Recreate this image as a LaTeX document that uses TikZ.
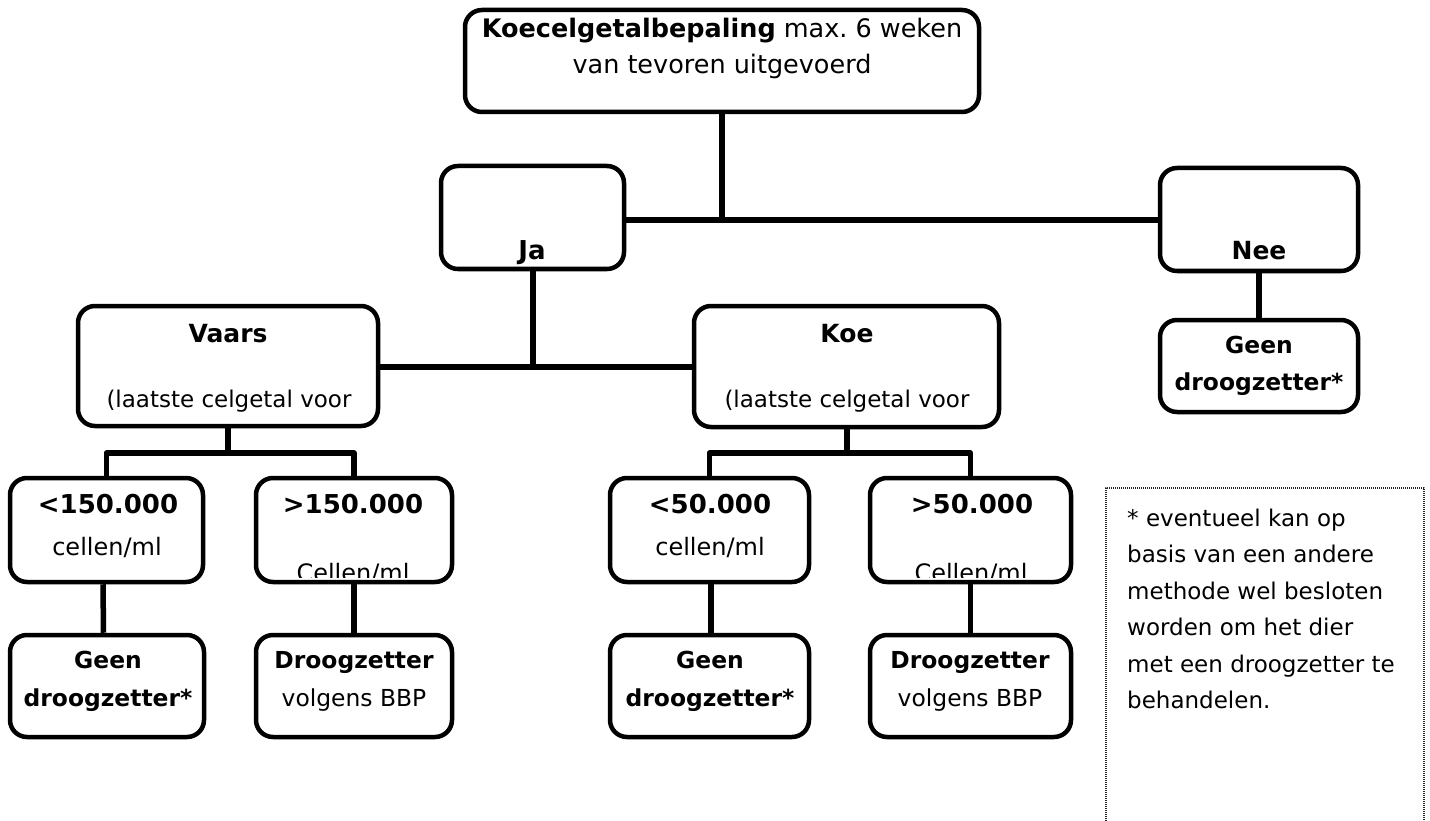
\documentclass[tikz,border=0pt]{standalone}
\usepackage{fontspec}
\setmainfont{DejaVu Sans}
\newcommand\fsz[2]{\fontsize{#1}{#2}\selectfont}
\newcommand\twolines[3]{\parbox[t]{300pt}{\centering\fsz{#1}{#2}#3}}
\begin{document}
\begin{tikzpicture}[x=1pt,y=-1pt,line join=round,
  box/.style={draw, line width=4.5pt, rounded corners=17pt, fill=white, inner sep=0pt},
  conn/.style={line width=5.5pt},
  txt/.style={inner sep=0pt, anchor=base},
  notebd/.style={line width=1.6pt, dash pattern=on 1pt off 1pt, black!85}]
\useasboundingbox (0,0) rectangle (1430,821);
% ---- boxes ----
\node[box, minimum width=514pt, minimum height=102pt] (top) at (722,61) {};
\node[box, minimum width=183pt, minimum height=103pt] (ja) at (532.5,217.5) {};
\node[box, minimum width=198pt, minimum height=103pt] (nee) at (1259,219.5) {};
\node[box, minimum width=198pt, minimum height=92pt] (neegeen) at (1259,366) {};
\node[box, minimum width=300pt, minimum height=120pt] (vaars) at (228,366) {};
\node[box, minimum width=305pt, minimum height=121pt] (koe) at (846.5,366.5) {};
\node[box, minimum width=193pt, minimum height=104pt] (v1) at (106.5,530) {};
\node[box, minimum width=196pt, minimum height=104pt] (v2) at (354,530) {};
\node[box, minimum width=199pt, minimum height=104pt] (k1) at (709.5,530) {};
\node[box, minimum width=201pt, minimum height=104pt] (k2) at (970.5,530) {};
\node[box, minimum width=194pt, minimum height=102pt] (b1) at (107,686) {};
\node[box, minimum width=196pt, minimum height=102pt] (b2) at (354,686) {};
\node[box, minimum width=199pt, minimum height=102pt] (b3) at (709.5,686) {};
\node[box, minimum width=201pt, minimum height=102pt] (b4) at (970.5,686) {};
% ---- connectors ----
\coordinate (jn) at (722,220);
\coordinate (jv) at (533,367);
\coordinate (vb) at (228,453);
\coordinate (kb) at (847,453);
\draw[conn] (top.south) -- (jn);
\draw[conn] (ja.east |- jn) -- (nee.west |- jn);
\draw[conn] (ja.south -| jv) -- (jv);
\draw[conn] (vaars.east |- jv) -- (koe.west |- jv);
\draw[conn] (nee.south) -- (neegeen.north);
\draw[conn] (vaars.south) -- (vb);
\draw[conn] (v1.north) |- (vb) -| (v2.north);
\draw[conn] (koe.south -| kb) -- (kb);
\draw[conn] (k1.north) |- (kb) -| (k2.north);
\draw[conn] ([xshift=-3.5pt]v1.south) -- ([xshift=-3.5pt]b1.north);
\draw[conn] (v2.south) -- (b2.north);
\draw[conn] ([xshift=1.5pt]k1.south) -- ([xshift=1.5pt]b3.north);
\draw[conn] (k2.south) -- (b4.north);
% ---- texts ----
\node[txt] (ttop) at (722,38) {\parbox[t]{520pt}{\centering\fsz{25.5}{36}\textbf{Koecelgetalbepaling} max.~6 weken\\van tevoren uitgevoerd}};
\node[txt] (tja) at (532,259) {\fsz{26}{30}\bfseries Ja};
\node[txt] (tnee) at (1259,259) {\fsz{25}{30}\bfseries Nee};
\node[txt] (tng) at (1259,353) {\twolines{23.4}{37}{\bfseries Geen\\droogzetter*}};
\node[txt] (tvaars) at (228,342) {\fsz{25}{30}\bfseries Vaars};
\node[txt] (tvaars2) at (229,407) {\fsz{23}{30}(laatste celgetal voor};
\node[txt] (tkoe) at (847,342) {\fsz{25}{30}\bfseries Koe};
\node[txt] (tkoe2) at (847,407) {\fsz{23}{30}(laatste celgetal voor};
\node[txt] (tv1a) at (108,513) {\fsz{26}{30}\bfseries <150.000};
\node[txt] (tv1b) at (107,555) {\fsz{24}{30}cellen/ml};
\node[txt] (tv2a) at (353,513) {\fsz{26}{30}\bfseries >150.000};
\node[txt] (tk1a) at (710,513) {\fsz{26}{30}\bfseries <50.000};
\node[txt] (tk1b) at (710,555) {\fsz{24}{30}cellen/ml};
\node[txt] (tk2a) at (972,513) {\fsz{26}{30}\bfseries >50.000};
\begin{scope}
  \clip ([xshift=3pt]v2.north west) rectangle ([yshift=6.5pt]v2.south east);
  \node[txt] (tv2b) at (353,581) {\fsz{24}{30}Cellen/ml};
\end{scope}
\begin{scope}
  \clip ([xshift=3pt]k2.north west) rectangle ([yshift=6.5pt]k2.south east);
  \node[txt] (tk2b) at (971,581) {\fsz{24}{30}Cellen/ml};
\end{scope}
\node[txt] (tb1) at (108,668) {\twolines{23.4}{38}{\bfseries Geen\\droogzetter*}};
\node[txt] (tb2) at (354,668) {\twolines{23.4}{38}{\textbf{Droogzetter}\\volgens BBP}};
\node[txt] (tb3) at (710,668) {\twolines{23.4}{38}{\bfseries Geen\\droogzetter*}};
\node[txt] (tb4) at (970,668) {\twolines{23.4}{38}{\textbf{Droogzetter}\\volgens BBP}};
% ---- note ----
\coordinate (n1) at (1106,821);
\coordinate (n2) at (1106,488);
\coordinate (n3) at (1424,488);
\coordinate (n4) at (1424,821);
\draw[notebd] (n1) -- (n2) -- (n3) -- (n4);
\node[inner sep=0pt, anchor=base west] (note) at (1127,526) {\parbox[t]{300pt}{\raggedright\fsz{23}{36.5}* eventueel kan op\\basis van een andere\\methode wel besloten\\worden om het dier\\met een droogzetter te\\behandelen.}};
\end{tikzpicture}
\end{document}
